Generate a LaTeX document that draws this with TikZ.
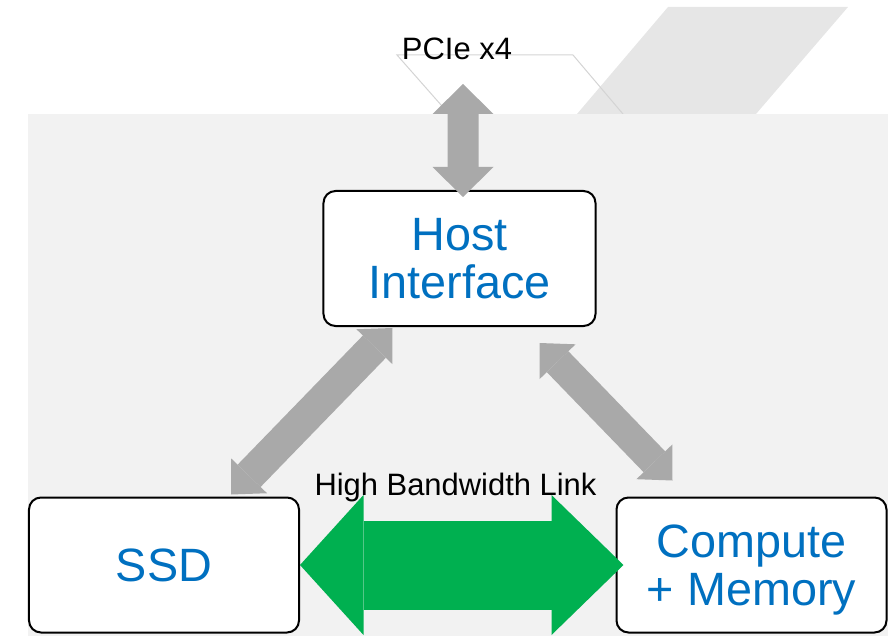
\documentclass[tikz,border=0pt]{standalone}
\usepackage{fontspec}
\setmainfont{Liberation Sans}
\usetikzlibrary{arrows.meta,calc}
\definecolor{panel}{HTML}{F2F2F2}
\definecolor{card}{HTML}{E6E6E6}
\definecolor{rim}{HTML}{D4D4D4}
\definecolor{linkgray}{HTML}{A9A9A9}
\definecolor{fastgreen}{HTML}{00B050}
\definecolor{unitblue}{HTML}{0070C0}
\tikzset{
  unit/.style = {
    draw, line width=0.4mm, rounded corners=2.4mm, fill=white,
    minimum width=54mm, minimum height=27mm, align=center,
    text=unitblue, font=\fontsize{26.6}{27.2}\selectfont
  },
  label/.style = {anchor=base, font=\fontsize{17.6}{20}\selectfont},
  link/.style = {
    color=linkgray, line width=6.4mm,
    arrows={Triangle[width=10mm,length=5.2mm,line width=0pt]-Triangle[width=10mm,length=5.2mm,line width=0pt]}
  }
}

\begin{document}
\begin{tikzpicture}[x=0.2mm,y=-0.2mm]
  \useasboundingbox (0,0) rectangle (894,636);
  % card behind the board
  \fill[card] (668,7) -- (848,7) -- (756,114) -- (577,114) -- cycle;
  \draw[rim,line width=0.2mm] (449,114) -- (397,55) -- (573,55) -- (623,114);
  \fill[panel] (28,114) rectangle (888,636);
  %
  \node[unit,minimum width=54.4mm] (host) at (459.5,258.5) {Host\\Interface};
  \node[unit] (ssd) at (164,565) {SSD};
  \node[unit] (compute) at (751.5,565) {Compute\\\raisebox{0pt}[\height][0pt]{+ Memory}};
  \coordinate (pcie) at (463,84);
  % host link
  \draw[link,line width=6.2mm,
    arrows={Triangle[width=12.2mm,length=6mm,line width=0pt]-Triangle[width=12.2mm,length=6mm,line width=0pt]}]
    (pcie) -- ($(host.north)+(3.5,7)$);
  % internal links
  \draw[link] ($(ssd.north)+(67,-2)$) -- ($(host.south west)+(70,1)$);
  \draw[link,line width=6mm] ($(host.south east)+(-57,16)$) -- ($(compute.north west)+(57,-16)$);
  \draw[fastgreen,line width=17.8mm,
    arrows={Triangle[width=28mm,length=12.7mm,line width=0pt]-Triangle[width=28mm,length=14.4mm,line width=0pt]}]
    (ssd.east) -- ($(compute.west)+(8,0)$);
  % labels
  \node[label] (pcielabel) at (457,60) {PCIe x4};
  \node[label] (hbl) at (455.5,495) {High Bandwidth Link};
\end{tikzpicture}
\end{document}
